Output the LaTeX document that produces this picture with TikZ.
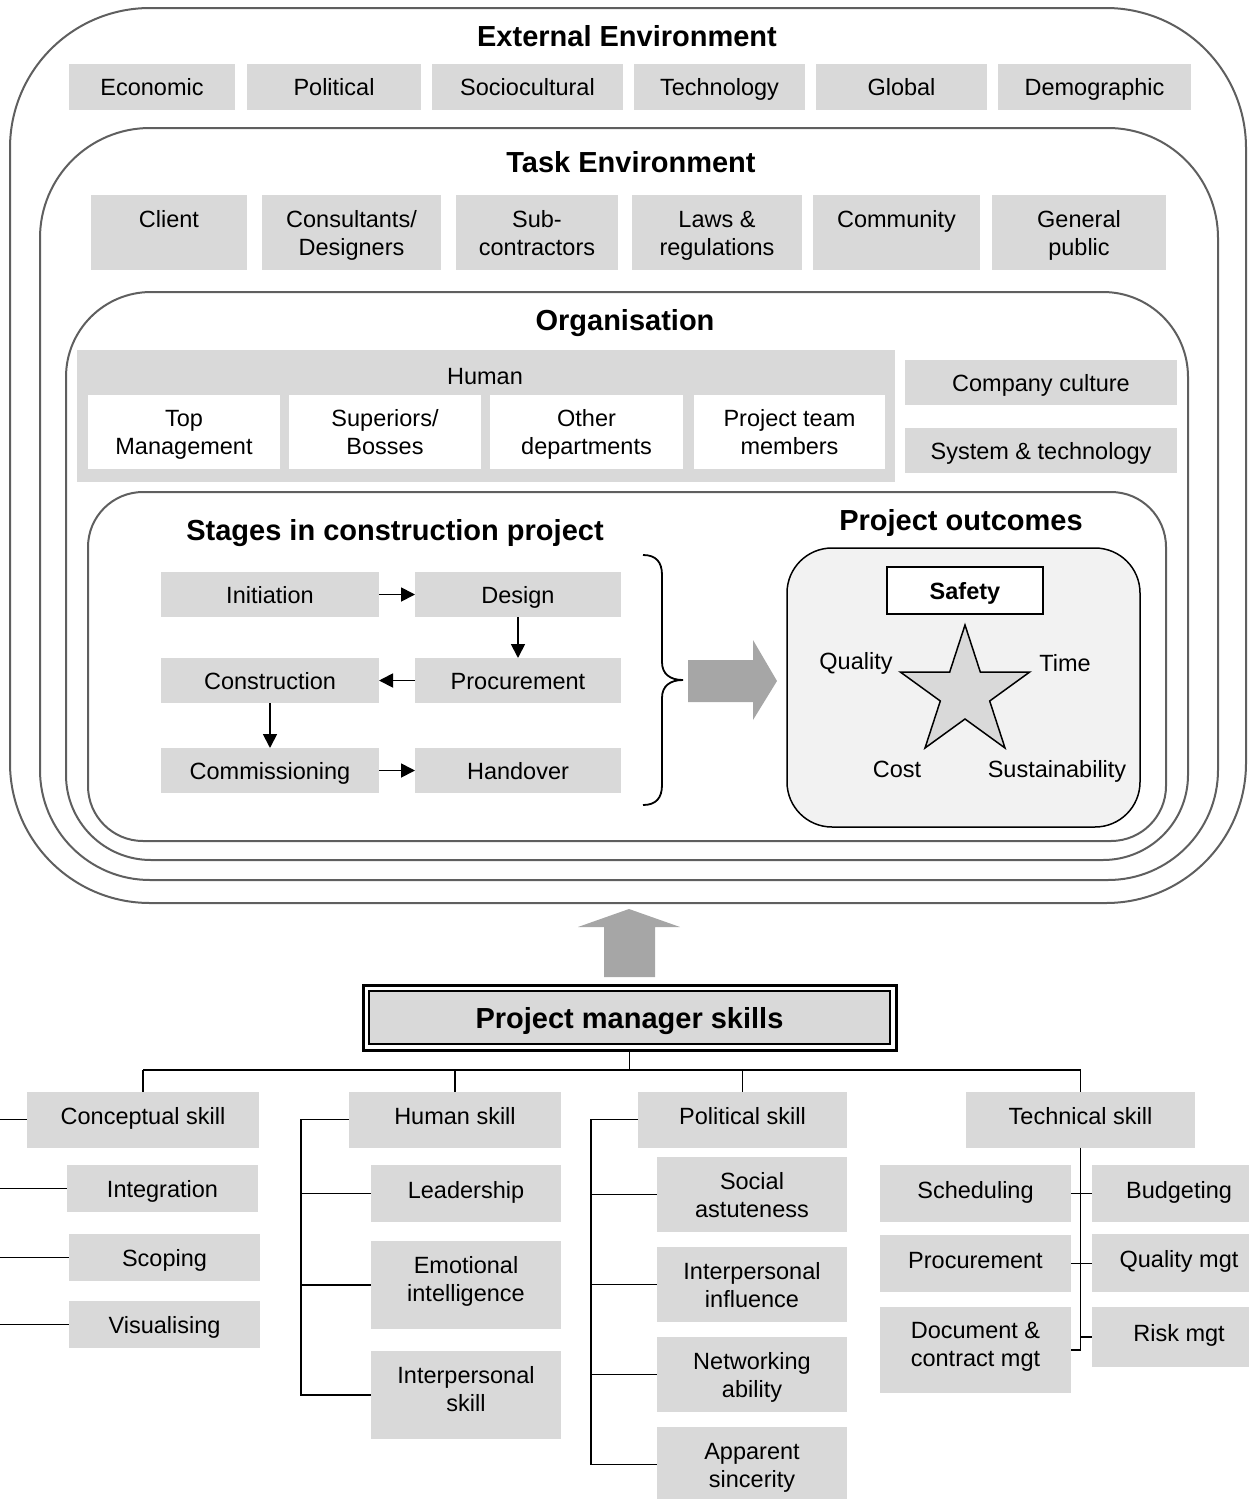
\documentclass[tikz,border=0pt]{standalone}
\usepackage{fontspec}
\setmainfont{Liberation Sans}
\usetikzlibrary{arrows.meta}
\definecolor{boxgray}{HTML}{D9D9D9}
\definecolor{framegray}{HTML}{5F5F5F}
\definecolor{arrgray}{HTML}{A6A6A6}
\definecolor{outfill}{HTML}{F2F2F2}
\newcommand\rgf{\fontsize{23.5}{28}\selectfont}
\newcommand\ttlf{\fontsize{29}{34}\selectfont\bfseries}
\begin{document}
\begin{tikzpicture}[x=1pt,y=-1pt,
  one/.style={text height=17pt, text depth=0pt},
  up/.style={text height=17pt, text depth=8pt},
  two/.style={text height=45pt, text depth=0pt},
  twoup/.style={text height=45pt, text depth=12pt},
  box/.style={fill=boxgray, inner sep=0pt, outer sep=0pt, align=center, font=\rgf, one},
  wbox/.style={fill=white, inner sep=0pt, outer sep=0pt, align=center, font=\rgf, two},
  frame/.style={draw=framegray, line width=2pt, inner sep=0pt, outer sep=0pt},
  ttl/.style={font=\ttlf, inner sep=0pt, text height=21pt, text depth=0pt},
  lbl/.style={font=\rgf, inner sep=0pt, one},
  tree/.style={draw=black, line width=1.8pt},
  arr/.style={draw=black, line width=1.8pt, -{Triangle[length=14pt,width=14pt]}},
]
\useasboundingbox (0,0) rectangle (1248,1499);

% ---------- frames ----------
\node[frame, minimum width=1236, minimum height=895, rounded corners=140] (ext) at (628,455.5) {};
\node[frame, minimum width=1178, minimum height=752, rounded corners=110] (task) at (629,504) {};
\node[frame, minimum width=1122, minimum height=568, rounded corners=85] (org) at (627,576) {};
\node[frame, minimum width=1078, minimum height=349, rounded corners=55] (stg) at (627,666.5) {};

% ---------- external environment ----------
\node[ttl] (extt) at (627,36) {External Environment};
\node[box, minimum width=166, minimum height=46] (eco) at (152,87) {Economic};
\node[box, minimum width=174, minimum height=46] (pol) at (334,87) {Political};
\node[box, minimum width=191, minimum height=46] (soc) at (527.5,87) {Sociocultural};
\node[box, minimum width=171, minimum height=46] (tec) at (719.5,87) {Technology};
\node[box, minimum width=171, minimum height=46] (glo) at (901.5,87) {Global};
\node[box, minimum width=193, minimum height=46] (dem) at (1094.5,87) {Demographic};

% ---------- task environment ----------
\node[ttl] (taskt) at (631,162) {Task Environment};
\node[box, two, minimum width=156, minimum height=75] (cli) at (169,232.5) {Client\\\mbox{}};
\node[box, two, minimum width=179, minimum height=75] (con) at (351.5,232.5) {Consultants/\\Designers};
\node[box, two, minimum width=162, minimum height=75] (sub) at (537,232.5) {Sub-\\contractors};
\node[box, two, minimum width=170, minimum height=75] (law) at (717,232.5) {Laws \&\\regulations};
\node[box, two, minimum width=167, minimum height=75] (com) at (896.5,232.5) {Community\\\mbox{}};
\node[box, two, minimum width=174, minimum height=75] (gen) at (1079,232.5) {General\\public};

% ---------- organisation ----------
\node[ttl] (orgt) at (625,320) {Organisation};
\node[box, minimum width=818, minimum height=132] (hum) at (486,416) {};
\node[lbl] (humt) at (485,376) {Human};
\node[wbox, minimum width=192, minimum height=74] (topm) at (184,432) {Top\\Management};
\node[wbox, minimum width=192, minimum height=74] (sup) at (385,432) {Superiors/\\Bosses};
\node[wbox, minimum width=193, minimum height=74] (oth) at (586.5,432) {Other\\departments};
\node[wbox, minimum width=191, minimum height=74] (ptm) at (789.5,432) {Project team\\members};
\node[box, minimum width=272, minimum height=45] (cc) at (1041,382.5) {Company culture};
\node[box, minimum width=272, minimum height=45] (st) at (1041,450.5) {System \& technology};

% ---------- stages ----------
\node[ttl] (stgt) at (395,530) {Stages in construction project};
\node[box, minimum width=218, minimum height=45] (ini) at (270,594.5) {Initiation};
\node[box, minimum width=206, minimum height=45] (des) at (518,594.5) {Design};
\node[box, minimum width=218, minimum height=45] (cons) at (270,680.5) {Construction};
\node[box, minimum width=206, minimum height=45] (proc) at (518,680.5) {Procurement};
\node[box, minimum width=218, minimum height=45] (comm) at (270,770.5) {Commissioning};
\node[box, minimum width=206, minimum height=45] (hand) at (518,770.5) {Handover};
\draw[arr] (ini.east) -- (des.west);
\draw[arr] (des.south) -- (proc.north);
\draw[arr] (proc.west) -- (cons.east);
\draw[arr] (cons.south) -- (comm.north);
\draw[arr] (comm.east) -- (hand.west);

% brace
\draw[black, line width=1.8pt] (643,555) .. controls (656,555) and (662,562) .. (662,575)
  -- (662,662) .. controls (662,674) and (670,680) .. (683,680)
  .. controls (670,680) and (662,686) .. (662,698)
  -- (662,785) .. controls (662,798) and (656,805) .. (643,805);

% block arrow to outcomes
\fill[arrgray] (688,660) -- (753,660) -- (753,640) -- (777,681) -- (753,720) -- (753,702) -- (688,702) -- cycle;

% ---------- outcomes ----------
\node[ttl] (outt) at (961,520) {Project outcomes};
\node[draw=black, fill=outfill, line width=1.5pt, minimum width=353, minimum height=279, rounded corners=45, inner sep=0pt] (outb) at (963.5,687.5) {};
\node[draw=black, fill=white, line width=1.5pt, minimum width=156, minimum height=47, inner sep=0pt, font=\fontsize{23.5}{28}\selectfont\bfseries, one] (saf) at (965,590.5) {Safety};
\draw[black, line width=1.5pt, fill=boxgray]
  (965,625) -- (980.3,672) -- (1029.7,672) -- (989.7,701) -- (1005,748)
  -- (965,719) -- (925,748) -- (940.3,701) -- (900.3,672) -- (949.7,672) -- cycle;
\node[lbl] (qua) at (856,661) {Quality};
\node[lbl] (tim) at (1065,663) {Time};
\node[lbl] (cst) at (897,769) {Cost};
\node[lbl] (sus) at (1057,769) {Sustainability};

% ---------- up arrow ----------
\fill[arrgray] (604,977) -- (604,927) -- (578,927) -- (629,909) -- (680,927) -- (655,927) -- (655,977) -- cycle;

% ---------- project manager skills ----------
\node[draw=black, line width=3pt, minimum width=533, minimum height=65, inner sep=0pt] (pmo) at (629.5,1017.5) {};
\node[draw=black, fill=boxgray, line width=1.5pt, minimum width=521, minimum height=53, inner sep=0pt, font=\ttlf, text height=21pt, text depth=0pt] (pm) at (629.5,1017.5) {Project manager skills};

\node[box, up, minimum width=232, minimum height=56] (cs) at (143,1119.5) {Conceptual skill};
\node[box, up, minimum width=212, minimum height=56] (hs) at (455,1119.5) {Human skill};
\node[box, up, minimum width=209, minimum height=56] (ps) at (742.5,1119.5) {Political skill};
\node[box, up, minimum width=229, minimum height=56] (ts) at (1080.5,1119.5) {Technical skill};

\coordinate (hub) at (629.5,1070);
\draw[tree] (pmo.south) -- (hub);
\draw[tree] (hub -| cs.north) -- (hub -| ts.north);
\draw[tree] (hub -| cs.north) -- (cs.north);
\draw[tree] (hub -| hs.north) -- (hs.north);
\draw[tree] (hub -| ps.north) -- (ps.north);
\draw[tree] (hub -| ts.north) -- (ts.north);

% conceptual
\node[box, minimum width=191, minimum height=47] (int) at (162.5,1188.5) {Integration};
\node[box, minimum width=191, minimum height=47] (sco) at (164.5,1257.5) {Scoping};
\node[box, minimum width=191, minimum height=47] (vis) at (164.5,1324.5) {Visualising};
\coordinate (cl) at (0,0);
\draw[tree] (cl |- cs.west) -- (cs.west);
\draw[tree] (cl |- int.west) -- (int.west);
\draw[tree] (cl |- sco.west) -- (sco.west);
\draw[tree] (cl |- vis.west) -- (vis.west);

% human
\node[box, up, minimum width=190, minimum height=57] (lea) at (466,1193.5) {Leadership};
\node[box, twoup, minimum width=190, minimum height=88] (emo) at (466,1285) {Emotional\\intelligence};
\node[box, twoup, minimum width=190, minimum height=88] (ips) at (466,1395) {Interpersonal\\skill};
\coordinate (hv) at (301,0);
\draw[tree] (hs.west) -| (hv |- ips.west) -- (ips.west);
\draw[tree] (hv |- lea.west) -- (lea.west);
\draw[tree] (hv |- emo.west) -- (emo.west);

% political
\node[box, two, minimum width=190, minimum height=75] (soa) at (752,1194.5) {Social\\astuteness};
\node[box, two, minimum width=190, minimum height=75] (ipi) at (752,1284.5) {Interpersonal\\influence};
\node[box, two, minimum width=190, minimum height=75] (net) at (752,1374.5) {Networking\\ability};
\node[box, two, minimum width=190, minimum height=75] (aps) at (752,1464.5) {Apparent\\sincerity};
\coordinate (pv) at (591,0);
\draw[tree] (ps.west) -| (pv |- aps.west) -- (aps.west);
\draw[tree] (pv |- soa.west) -- (soa.west);
\draw[tree] (pv |- ipi.west) -- (ipi.west);
\draw[tree] (pv |- net.west) -- (net.west);

% technical
\node[box, up, minimum width=191, minimum height=57] (sch) at (975.5,1193.5) {Scheduling};
\node[box, up, minimum width=191, minimum height=57] (tpr) at (975.5,1263.5) {Procurement};
\node[box, twoup, minimum width=191, minimum height=86] (doc) at (975.5,1350) {Document \&\\contract mgt};
\node[box, up, minimum width=174, minimum height=57] (bud) at (1179,1193.5) {Budgeting};
\node[box, up, minimum width=174, minimum height=58] (qm) at (1179,1263) {Quality mgt};
\node[box, up, minimum width=174, minimum height=60] (rsk) at (1179,1337) {Risk mgt};
\draw[tree] (ts.south) |- (doc.east);
\draw[tree] (sch.east) -- (bud.west);
\draw[tree] (tpr.east) -- (tpr.east -| qm.west);
\draw[tree] (ts.south |- rsk.west) -- (rsk.west);
\end{tikzpicture}
\end{document}
